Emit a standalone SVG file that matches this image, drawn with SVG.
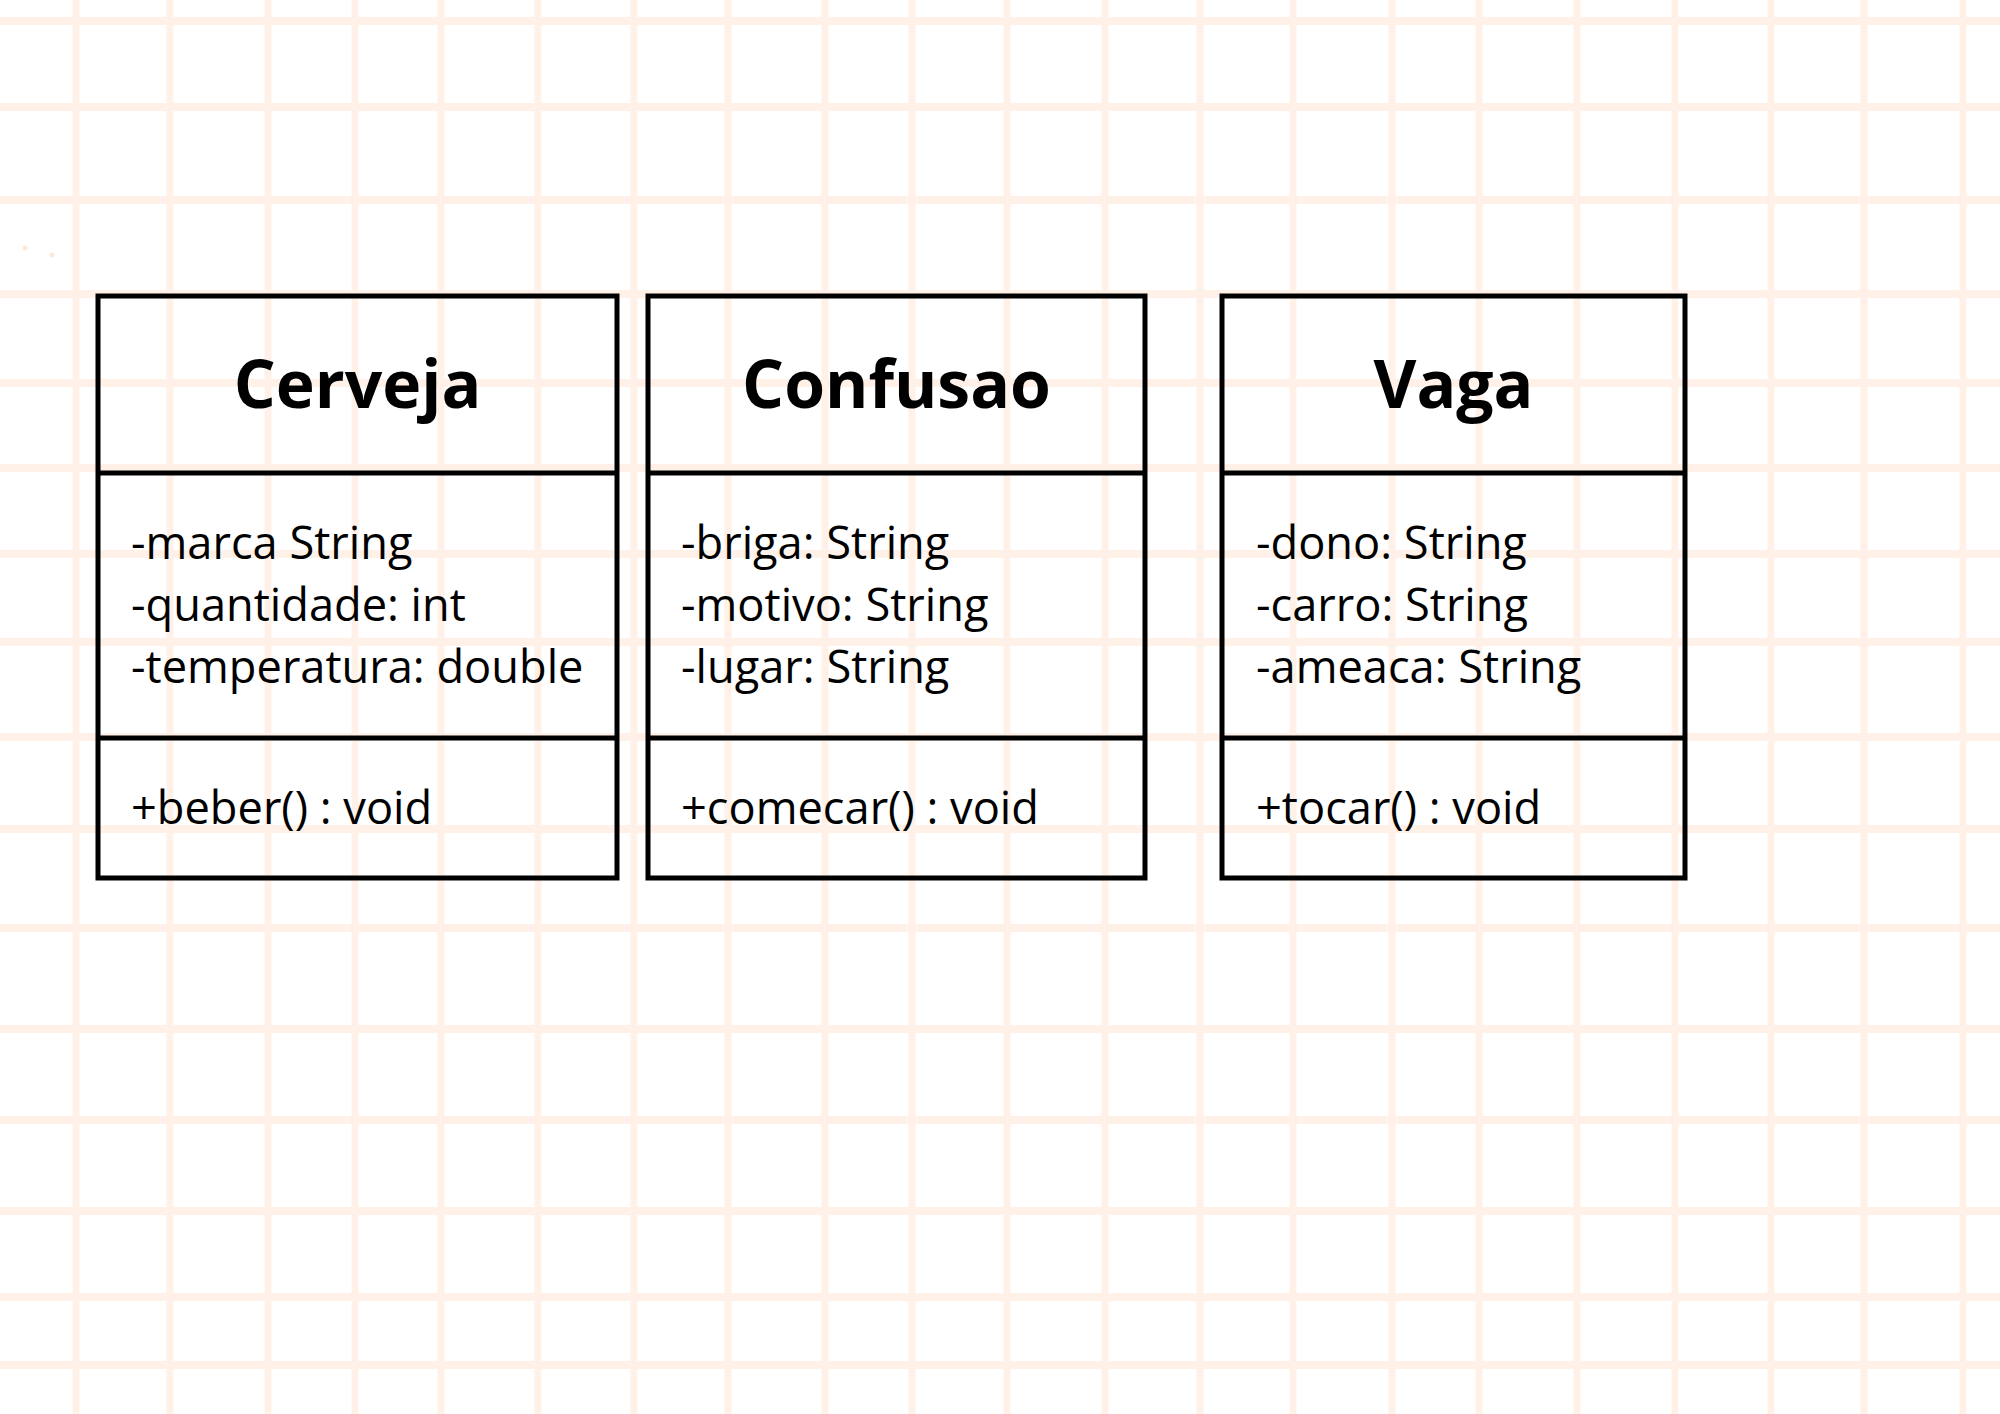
<svg xmlns="http://www.w3.org/2000/svg" width="2000" height="1414" viewBox="0 0 2000 1414">
<style>
.gh{stroke:#FFF1E7;stroke-width:8;fill:none}
.gv{stroke:#FFF1E7;stroke-width:7;fill:none}
.box{fill:none;stroke:#000;stroke-width:5}
.div{stroke:#000;stroke-width:5}
.title{font-family:"Open Sans","Liberation Sans",sans-serif;font-weight:bold;font-size:66px;fill:#000;text-anchor:middle}
.txt{font-family:"Open Sans","Liberation Sans",sans-serif;font-size:45.2px;fill:#000}
</style>
<rect x="0" y="0" width="2000" height="1414" fill="#fff"/>
<g id="grid">
<path class="gv" d="M76 0V1414M170 0V1414M268 0V1414M355 0V1414M441 0V1414M538 0V1414M634 0V1414M728 0V1414M825 0V1414M912 0V1414M1007 0V1414M1105 0V1414M1200 0V1414M1293 0V1414M1392 0V1414M1479 0V1414M1577 0V1414M1675 0V1414M1771 0V1414M1864 0V1414M1963 0V1414"/>
<path class="gh" d="M0 21H2000M0 107H2000M0 200H2000M0 294H2000M0 383H2000M0 468H2000M0 554H2000M0 642H2000M0 737H2000M0 829H2000M0 928H2000M0 1029H2000M0 1120H2000M0 1211H2000M0 1297H2000M0 1365H2000"/>
<circle cx="25" cy="248" r="2.5" fill="#FCEBDD"/>
<circle cx="52" cy="255" r="2.5" fill="#FCEBDD"/>
</g>
<g id="connectors"></g>
<g id="cerveja">
<rect class="box" x="98" y="296" width="519" height="582"/>
<line class="div" x1="98" y1="473" x2="617" y2="473"/>
<line class="div" x1="98" y1="738" x2="617" y2="738"/>
<text class="title" x="357.5" y="408">Cerveja</text>
<text class="txt" x="131" y="559">-marca String</text>
<text class="txt" x="131" y="621">-quantidade: int</text>
<text class="txt" x="131" y="683">-temperatura: double</text>
<text class="txt" x="131" y="824">+beber() : void</text>
</g>
<g id="confusao">
<rect class="box" x="648" y="296" width="497" height="582"/>
<line class="div" x1="648" y1="473" x2="1145" y2="473"/>
<line class="div" x1="648" y1="738" x2="1145" y2="738"/>
<text class="title" x="896.5" y="408">Confusao</text>
<text class="txt" x="681" y="559">-briga: String</text>
<text class="txt" x="681" y="621">-motivo: String</text>
<text class="txt" x="681" y="683">-lugar: String</text>
<text class="txt" x="681" y="824">+comecar() : void</text>
</g>
<g id="vaga">
<rect class="box" x="1222" y="296" width="463" height="582"/>
<line class="div" x1="1222" y1="473" x2="1685" y2="473"/>
<line class="div" x1="1222" y1="738" x2="1685" y2="738"/>
<text class="title" x="1453.5" y="408">Vaga</text>
<text class="txt" x="1256" y="559">-dono: String</text>
<text class="txt" x="1256" y="621">-carro: String</text>
<text class="txt" x="1256" y="683">-ameaca: String</text>
<text class="txt" x="1256" y="824">+tocar() : void</text>
</g>
</svg>
